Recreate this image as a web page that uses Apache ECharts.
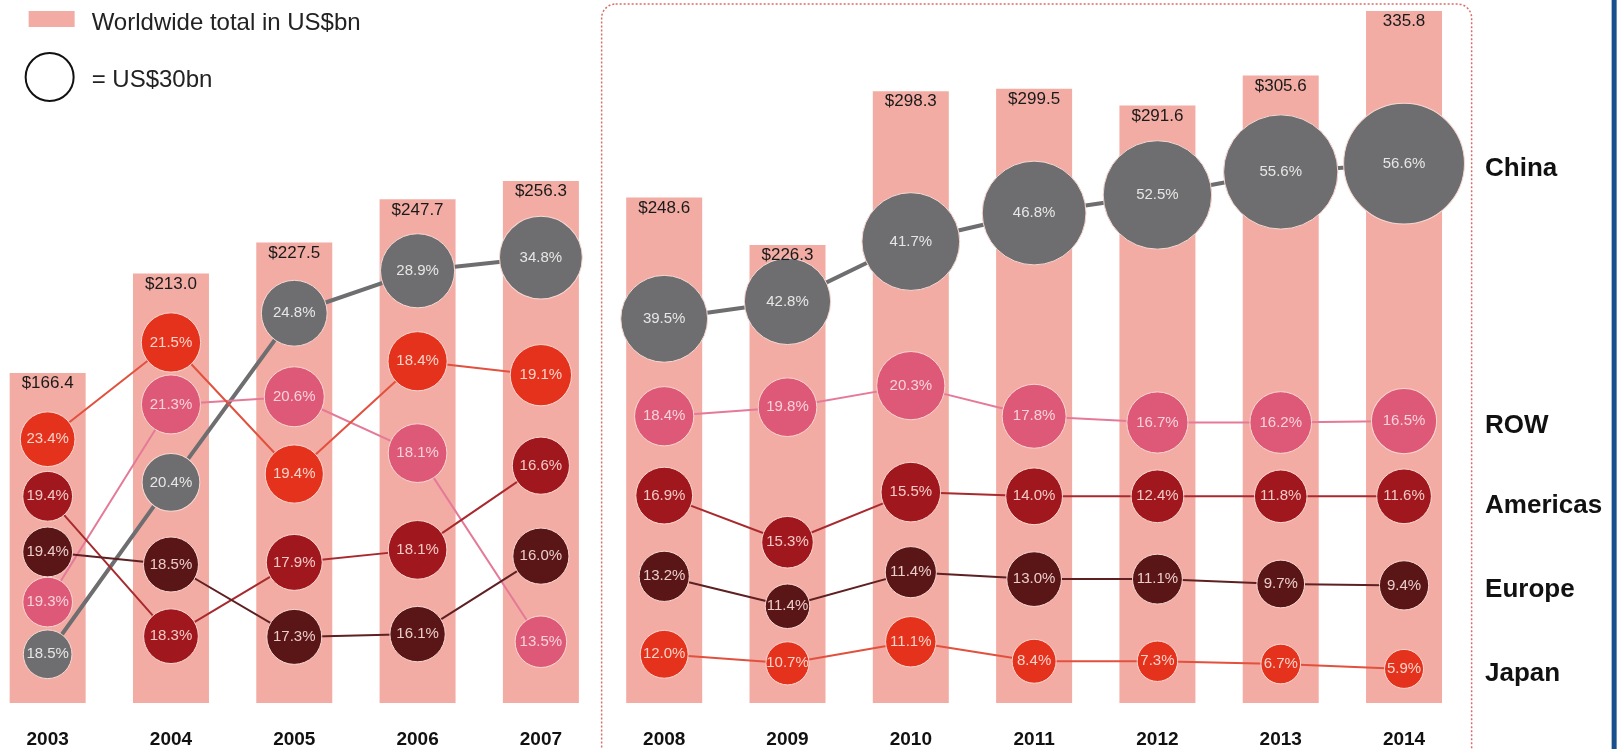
<!DOCTYPE html>
<html><head><meta charset="utf-8">
<script src="https://cdn.jsdelivr.net/npm/echarts@6/dist/echarts.min.js"></script>
<style>html,body{margin:0;padding:0;background:#fff;overflow:hidden;width:1617px;height:749px;position:relative}
#c{position:absolute;left:-13.64px;top:0;width:1630.64px;height:749px}</style>
</head><body><div id="c"></div>
<script>
// ---------- data ----------
const years = ['2003','2004','2005','2006','2007','2008','2009','2010','2011','2012','2013','2014'];
const totals = [166.4,213.0,227.5,247.7,256.3,248.6,226.3,298.3,299.5,291.6,305.6,335.8];
const totalLabels = ['$166.4','$213.0','$227.5','$247.7','$256.3','$248.6','$226.3','$298.3','$299.5','$291.6','$305.6','335.8'];
const regions = ['China','ROW','Americas','Europe','Japan'];
// the two periods that the lines connect separately (index ranges into years)
const periods = [[0,4],[5,11]];

// regional share of worldwide total (%)
const chinaShare    = [18.5,20.4,24.8,28.9,34.8,39.5,42.8,41.7,46.8,52.5,55.6,56.6];
const rowShare      = [19.3,21.3,20.6,18.1,13.5,18.4,19.8,20.3,17.8,16.7,16.2,16.5];
const americasShare = [19.4,18.3,17.9,18.1,16.6,16.9,15.3,15.5,14.0,12.4,11.8,11.6];
const europeShare   = [19.4,18.5,17.3,16.1,16.0,13.2,11.4,11.4,13.0,11.1,9.7,9.4];
const japanShare    = [23.4,21.5,19.4,18.4,19.1,12.0,10.7,11.1,8.4,7.3,6.7,5.9];

// rank level of each bubble in its column (0 = bottom, 100 = top)
const chinaLevel    = [7.0,31.7,56.0,62.1,64.0,55.2,57.7,66.3,70.4,73.0,76.3,77.5];
const rowLevel      = [14.5,42.9,44.0,35.9,8.8,41.2,42.5,45.6,41.2,40.3,40.3,40.5];
const americasLevel = [29.7,9.6,20.2,22.0,34.1,29.8,23.1,30.3,29.7,29.7,29.7,29.7];
const europeLevel   = [21.7,19.9,9.5,9.9,21.1,18.2,13.9,18.8,17.8,17.8,17.1,16.9];
const japanLevel    = [37.9,51.8,32.9,49.1,47.1,7.0,5.7,8.8,6.0,6.0,5.6,4.9];

const legendBn = 30;

// ---------- styles ----------
const OX = 13.64; // chart canvas starts this far left of the page
const FONT = '"Liberation Sans", Arial, Helvetica, sans-serif';
const BAR_COLOR = '#f3aca4';
const styles = {
  China:    {fill:'#6e6e70', line:'#6e6e70', lw:4, text:'#e6e6e6', dy:5},
  ROW:      {fill:'#de5878', line:'#e47a98', lw:2, text:'#f8d2da', dy:5},
  Americas: {fill:'#a0181d', line:'#a82a2e', lw:2, text:'#f4c8c6', dy:10},
  Europe:   {fill:'#5a1517', line:'#5e2022', lw:2, text:'#ecccca', dy:4},
  Japan:    {fill:'#e4321d', line:'#e2503e', lw:2, text:'#fbd3c8', dy:5}
};
const shares = {China:chinaShare, ROW:rowShare, Americas:americasShare, Europe:europeShare, Japan:japanShare};
const levels = {China:chinaLevel, ROW:rowLevel, Americas:americasLevel, Europe:europeLevel, Japan:japanLevel};

const BASE_D = 48; // diameter of the US$30bn reference circle
const sizeFor = bn => BASE_D * Math.sqrt(bn / legendBn);

const series = [{
  type:'bar', data: totals, barWidth: 76, barGap:'-100%', yAxisIndex: 0, z: 1,
  itemStyle:{color: BAR_COLOR}, silent:true
}];

regions.forEach(r => {
  const st = styles[r];
  periods.forEach(([a,b], k) => {
    const last = k === periods.length - 1;
    series.push({
      type:'line', name:r, yAxisIndex:1, z:2, symbol:'none', clip:false, connectNulls:false,
      data: levels[r].map((v,i) => (i >= a && i <= b) ? v : null),
      lineStyle:{color: st.line, width: st.lw}, silent:true,
      endLabel:{show:last, formatter: r, distance: 81, offset:[0, st.dy], color:'#111', fontSize:26,
        fontWeight:'bold', fontFamily:FONT}
    });
  });
});
regions.forEach(r => {
  const st = styles[r];
  series.push({
    type:'scatter', name:r+' share', yAxisIndex:1, z:3,
    data: years.map((y,i) => [i, levels[r][i], shares[r][i], totals[i]]),
    symbolSize: v => sizeFor(v[2] * v[3] / 100),
    itemStyle:{color: st.fill, borderColor:'#f7d8d2', borderWidth:1, opacity:1},
    label:{show:true, position:'inside', color: st.text, fontSize:15, fontFamily:FONT,
      formatter: p => p.value[2].toFixed(1) + '%'},
    silent:true
  });
});
// total value labels, kept above the bubbles
series.push({
  type:'bar', data: totals, barWidth: 76, barGap:'-100%', yAxisIndex: 0, z: 4,
  itemStyle:{color:'rgba(0,0,0,0)'}, silent:true,
  label:{show:true, position:'insideTop', distance:2, color:'#1a1a1a', fontSize:17, fontFamily:FONT,
    formatter: p => totalLabels[p.dataIndex]}
});

const chart = echarts.init(document.getElementById('c'), null, {renderer:'canvas'});
chart.setOption({
  animation:false,
  backgroundColor:'#ffffff',
  grid:{left:0, right:151.3, top:7, bottom:45},
  xAxis:{type:'category', data: years, axisLine:{show:false}, axisTick:{show:false},
    splitLine:{show:false},
    axisLabel:{color:'#111', fontSize:19, fontWeight:'bold', fontFamily:FONT, margin:27}},
  yAxis:[
    {type:'value', min:12, max:337.7, show:false},
    {type:'value', min:0, max:100, show:false}
  ],
  series: series,
  graphic:[
    {type:'rect', shape:{x:602+OX, y:4, width:870, height:820, r:14}, silent:true,
      style:{fill:'none', stroke:'#d86c66', lineWidth:1.5, lineDash:[2,2]}},
    {type:'rect', shape:{x:1612+OX, y:0, width:5, height:749}, silent:true,
      style:{fill:'#17508d'}},
    {type:'rect', shape:{x:29+OX, y:11, width:46, height:16}, silent:true, style:{fill: BAR_COLOR}},
    {type:'text', x:92+OX, y:23, silent:true, style:{text:'Worldwide total in US$bn', font:'24px '+FONT,
      fill:'#222', verticalAlign:'middle'}},
    {type:'circle', shape:{cx:50+OX, cy:77, r: sizeFor(legendBn)/2}, silent:true,
      style:{fill:'none', stroke:'#111', lineWidth:2}},
    {type:'text', x:92+OX, y:80, silent:true, style:{text:'= US$' + legendBn + 'bn', font:'24px '+FONT,
      fill:'#222', verticalAlign:'middle'}}
  ]
});
</script>
</body></html>
